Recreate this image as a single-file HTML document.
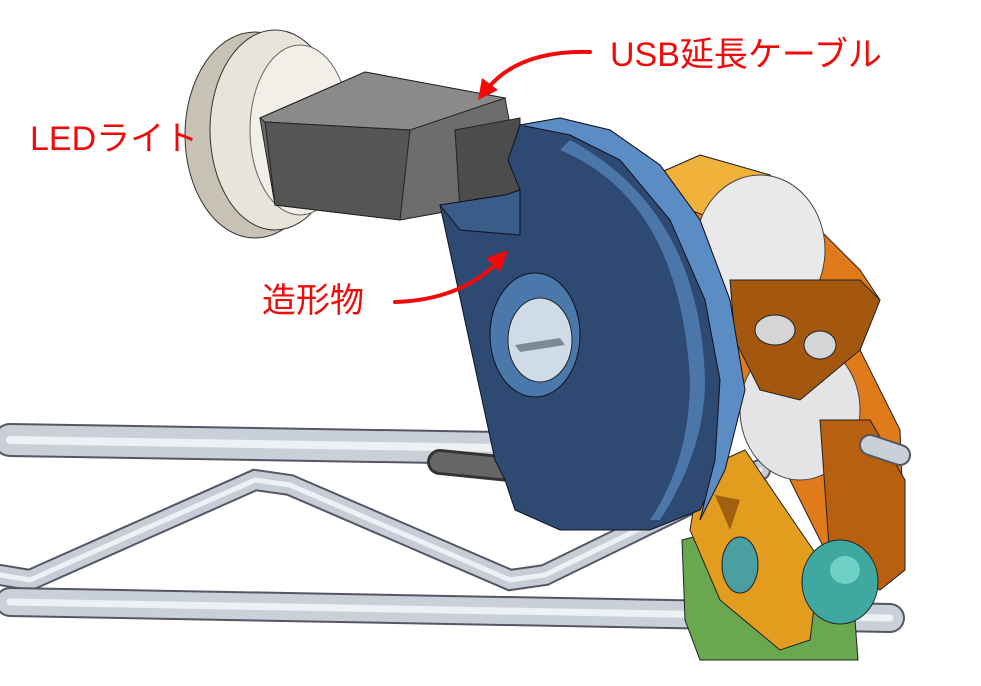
<!DOCTYPE html>
<html><head><meta charset="utf-8"><style>
html,body{margin:0;padding:0;background:#fff;}
svg{display:block}
text{font-family:"Liberation Sans","Noto Sans CJK JP",sans-serif;fill:#f00a0a;font-size:34px}
</style></head><body>
<svg width="981" height="686" viewBox="0 0 981 686">
<!-- rods back -->
<g stroke-linecap="round" fill="none">
<path d="M10 440 L500 448" stroke="#556" stroke-width="34"/>
<path d="M10 440 L500 448" stroke="#c9d0d8" stroke-width="30"/>
<path d="M10 440 L500 448" stroke="#eef1f4" stroke-width="8"/>
<path d="M0 575 L30 580 L255 480 L290 485 L510 580 L545 575 L760 470" stroke="#556" stroke-width="22"/>
<path d="M0 575 L30 580 L255 480 L290 485 L510 580 L545 575 L760 470" stroke="#c6cdd6" stroke-width="18"/>
<path d="M0 575 L30 580 L255 480 L290 485 L510 580 L545 575 L760 470" stroke="#eef1f4" stroke-width="5"/>
<path d="M440 462 L520 470" stroke="#333" stroke-width="26"/>
<path d="M440 462 L520 470" stroke="#666" stroke-width="20"/>
</g>
<!-- LED light -->
<ellipse cx="255" cy="135" rx="70" ry="103" fill="#c8c2b4" stroke="#333"/>
<ellipse cx="275" cy="130" rx="65" ry="100" fill="#e8e4da" stroke="#333"/>
<ellipse cx="300" cy="130" rx="50" ry="85" fill="#f2efe8" stroke="#666"/>
<!-- USB -->
<path d="M260 118 L365 72 L505 98 L510 125 L455 210 L400 220 L275 205 Z" fill="#6d6d6d" stroke="#222"/>
<path d="M260 118 L365 72 L505 98 L410 130 L265 122 Z" fill="#8a8a8a" stroke="#222"/>
<path d="M265 122 L410 130 L400 220 L275 205 Z" fill="#555" stroke="#222"/>
<path d="M455 130 L520 118 L520 200 L460 210 Z" fill="#4c4c4c" stroke="#222"/>
<!-- orange parts -->
<path d="M655 175 L700 155 L770 175 L800 210 L860 270 L880 300 L860 350 L900 430 L905 560 L880 590 L830 560 L760 420 L700 360 Z" fill="#e07a1a" stroke="#222"/>
<path d="M655 175 L700 155 L770 175 L795 215 L730 225 L690 210 Z" fill="#f0b23a" stroke="#222"/>
<ellipse cx="760" cy="250" rx="65" ry="75" fill="#e9e9ea" stroke="#444"/>
<ellipse cx="800" cy="410" rx="60" ry="70" fill="#e4e4e6" stroke="#444"/>
<path d="M730 280 L860 280 L880 300 L860 350 L800 400 L760 390 L735 340 Z" fill="#a4570f" stroke="#222"/>
<ellipse cx="775" cy="330" rx="20" ry="15" fill="#d5d5d5" stroke="#222"/>
<ellipse cx="820" cy="345" rx="16" ry="14" fill="#d5d5d5" stroke="#222"/>
<path d="M820 420 L870 420 L905 480 L905 570 L880 590 L830 560 Z" fill="#b8600f" stroke="#222"/>
<!-- rods front -->
<g stroke-linecap="round" fill="none">
<path d="M10 602 L890 618" stroke="#556" stroke-width="30"/>
<path d="M10 602 L890 618" stroke="#c9d0d8" stroke-width="26"/>
<path d="M10 602 L890 618" stroke="#eef1f4" stroke-width="7"/>
<path d="M870 445 L900 455" stroke="#556" stroke-width="22"/>
<path d="M870 445 L900 455" stroke="#c9d0d8" stroke-width="18"/>
</g>
<!-- green -->
<path d="M682 540 L720 530 L790 600 L855 620 L858 660 L700 660 L685 620 Z" fill="#6aa84f" stroke="#222"/>
<!-- yellow front -->
<path d="M700 470 L745 450 L820 560 L810 640 L780 650 L720 600 L690 530 Z" fill="#e29d1e" stroke="#222"/>
<ellipse cx="740" cy="565" rx="18" ry="28" fill="#4a9fa0" stroke="#222"/>
<path d="M715 495 L740 500 L730 530 Z" fill="#a06010"/>
<!-- teal ball -->
<ellipse cx="840" cy="582" rx="38" ry="42" fill="#3fa8a0" stroke="#222"/>
<ellipse cx="845" cy="570" rx="15" ry="14" fill="#6fd0c6"/>
<!-- blue part -->
<path d="M440 205 L505 195 L520 190 L508 160 L520 125 L560 118 L610 130 L660 165 L700 220 L730 300 L740 380 L725 460 L700 510 L650 530 L560 530 L515 510 L505 480 L495 460 Z" fill="#2e4a72" stroke="#112"/>
<path d="M520 125 L560 118 L610 130 L660 165 L700 220 L730 300 L745 390 L725 470 L700 520 L715 460 L720 380 L705 300 L670 220 L620 160 L570 135 Z" fill="#5b8cc4" stroke="#112"/>
<path d="M560 150 Q680 200 690 380 Q690 460 650 520 L660 520 Q705 450 705 380 Q700 210 570 140 Z" fill="#4a76aa"/>
<path d="M505 195 L520 190 L520 235 L460 230 L440 205 Z" fill="#3a5c88" stroke="#112"/>
<ellipse cx="535" cy="335" rx="45" ry="62" fill="#4a78aa" stroke="#112"/>
<ellipse cx="540" cy="340" rx="32" ry="42" fill="#cfdbe6" stroke="#222"/>
<path d="M515 345 L560 338 L565 345 L520 352 Z" fill="#7d8a96"/>
<!-- labels -->
<text x="610" y="66">USB延長ケーブル</text>
<text x="30" y="150">LEDライト</text>
<text x="262" y="312">造形物</text>
<!-- arrows -->
<g fill="none" stroke="#f00a0a" stroke-width="4" stroke-linecap="round">
<path d="M590 52 Q520 50 488 88"/>
<path d="M395 302 Q460 300 498 262"/>
</g>
<path d="M478 100 L482 78 L498 90 Z" fill="#f00a0a"/>
<path d="M508 250 L486 258 L500 272 Z" fill="#f00a0a"/>
</svg>
</body></html>
